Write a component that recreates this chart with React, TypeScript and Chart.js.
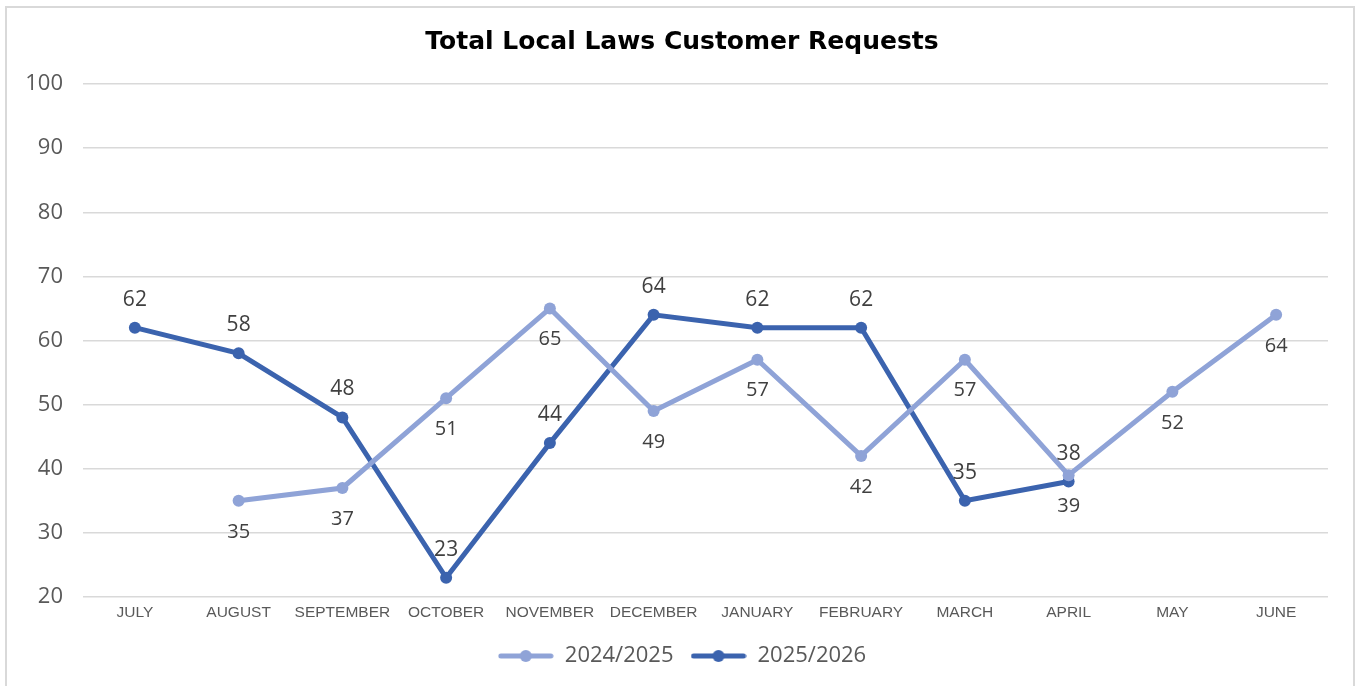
import React, { useEffect, useRef } from "react";
import { Chart, registerables } from "chart.js";

Chart.register(...registerables);

const months = ["JULY", "AUGUST", "SEPTEMBER", "OCTOBER", "NOVEMBER", "DECEMBER", "JANUARY", "FEBRUARY", "MARCH", "APRIL", "MAY", "JUNE"];
const series2425 = [null, 35, 37, 51, 65, 49, 57, 42, 57, 39, 52, 64];
const series2526 = [62, 58, 48, 23, 44, 64, 62, 62, 35, 38, null, null];
const seriesNames = ["2024/2025", "2025/2026"];
const yTicks = [20, 30, 40, 50, 60, 70, 80, 90, 100];
const titleText = "Total Local Laws Customer Requests";

const LIGHT = "#8FA3D7";
const DARK = "#3B63AE";
const TEXT = "#404040";
const AXIS_TEXT = "#595959";

function makeLegendIcon(color: string): HTMLCanvasElement {
  const c = document.createElement("canvas");
  c.width = 56;
  c.height = 14;
  const ctx = c.getContext("2d")!;
  ctx.strokeStyle = color;
  ctx.lineWidth = 5;
  ctx.lineCap = "round";
  ctx.beginPath();
  ctx.moveTo(3, 7);
  ctx.lineTo(53, 7);
  ctx.stroke();
  ctx.fillStyle = color;
  ctx.beginPath();
  ctx.arc(28, 7, 6, 0, Math.PI * 2);
  ctx.fill();
  return c;
}

const dataLabelPlugin = {
  id: "dataLabels",
  afterDatasetsDraw(chart: any) {
    const ctx = chart.ctx;
    chart.data.datasets.forEach((ds: any, i: number) => {
      const meta = chart.getDatasetMeta(i);
      const above = i === 1;
      ctx.save();
      ctx.fillStyle = TEXT;
      ctx.font = above ? "21px 'Open Sans', 'Liberation Sans', sans-serif" : "20px 'Open Sans', 'Liberation Sans', sans-serif";
      ctx.textAlign = "center";
      ctx.textBaseline = "middle";
      meta.data.forEach((pt: any, j: number) => {
        const v = ds.data[j];
        if (v === null || v === undefined) return;
        const y = above ? pt.y - 28 : pt.y + 31;
        ctx.fillText(String(v), pt.x, y);
      });
      ctx.restore();
    });
  },
};

export default function App() {
  const ref = useRef<HTMLCanvasElement | null>(null);
  useEffect(() => {
    if (!ref.current) return;
    const icons = [makeLegendIcon(LIGHT), makeLegendIcon(DARK)];
    const chart = new Chart(ref.current, {
      type: "line",
      data: {
        labels: months,
        datasets: [
          {
            label: seriesNames[0],
            data: series2425,
            borderColor: LIGHT,
            backgroundColor: LIGHT,
            borderWidth: 5,
            pointRadius: 6,
            pointHoverRadius: 6,
            pointBackgroundColor: LIGHT,
            pointBorderWidth: 0,
            spanGaps: false,
            tension: 0,
          },
          {
            label: seriesNames[1],
            data: series2526,
            borderColor: DARK,
            backgroundColor: DARK,
            borderWidth: 5,
            pointRadius: 6,
            pointHoverRadius: 6,
            pointBackgroundColor: DARK,
            pointBorderWidth: 0,
            spanGaps: false,
            tension: 0,
          },
        ],
      },
      options: {
        animation: false,
        responsive: false,
        maintainAspectRatio: false,
        layout: { padding: { left: 5, right: 0, top: 0, bottom: 9 } },
        plugins: {
          tooltip: { enabled: false },
          title: {
            display: true,
            text: titleText,
            color: "#000000",
            font: { family: "'DejaVu Sans', 'Liberation Sans', sans-serif", size: 25, weight: "bold" },
            padding: { top: 27, bottom: 27 },
          },
          legend: {
            display: true,
            position: "bottom",
            labels: {
              color: AXIS_TEXT,
              font: { family: "'Open Sans', 'Liberation Sans', sans-serif", size: 22 },
              usePointStyle: true,
              pointStyleWidth: 56,
              padding: 17,
              generateLabels: (ch: any) => {
                const items = Chart.defaults.plugins.legend.labels.generateLabels(ch);
                return items.map((it: any) => ({ ...it, pointStyle: icons[it.datasetIndex] }));
              },
            },
          },
        },
        scales: {
          x: {
            offset: true,
            grid: { display: false, drawTicks: false },
            border: { display: false },
            ticks: {
              color: AXIS_TEXT,
              font: { family: "'Liberation Sans', Arial, sans-serif", size: 15.5 },
              padding: 6,
              maxRotation: 0,
              autoSkip: false,
            },
            afterFit: (s: any) => {
              s.height = 31;
            },
          },
          y: {
            min: 20,
            max: 100,
            afterBuildTicks: (s: any) => {
              s.ticks = yTicks.map((v) => ({ value: v }));
            },
            grid: { color: "#D9D9D9", lineWidth: 1.5, drawTicks: false },
            border: { display: false },
            ticks: {
              color: AXIS_TEXT,
              font: { family: "'Open Sans', 'Liberation Sans', sans-serif", size: 22 },
              padding: 20,
            },
            afterFit: (s: any) => {
              s.width = 78;
            },
          },
          yRightSpacer: {
            type: "linear",
            position: "right",
            min: 20,
            max: 100,
            grid: { display: false, drawOnChartArea: false, drawTicks: false },
            border: { display: false },
            ticks: { display: false },
            afterFit: (s: any) => {
              s.width = 31;
            },
          },
        },
      },
      plugins: [dataLabelPlugin],
    });
    return () => chart.destroy();
  }, []);

  return (
    <div style={{ position: "fixed", left: 0, top: 0, width: 1359, height: 686, background: "#fff" }}>
      <canvas ref={ref} width={1359} height={686} style={{ display: "block", width: 1359, height: 686 }} />
      <div
        style={{
          position: "absolute",
          left: 5,
          top: 6,
          width: 1346,
          height: 700,
          border: "2px solid #D9D9D9",
          pointerEvents: "none",
        }}
      />
    </div>
  );
}
